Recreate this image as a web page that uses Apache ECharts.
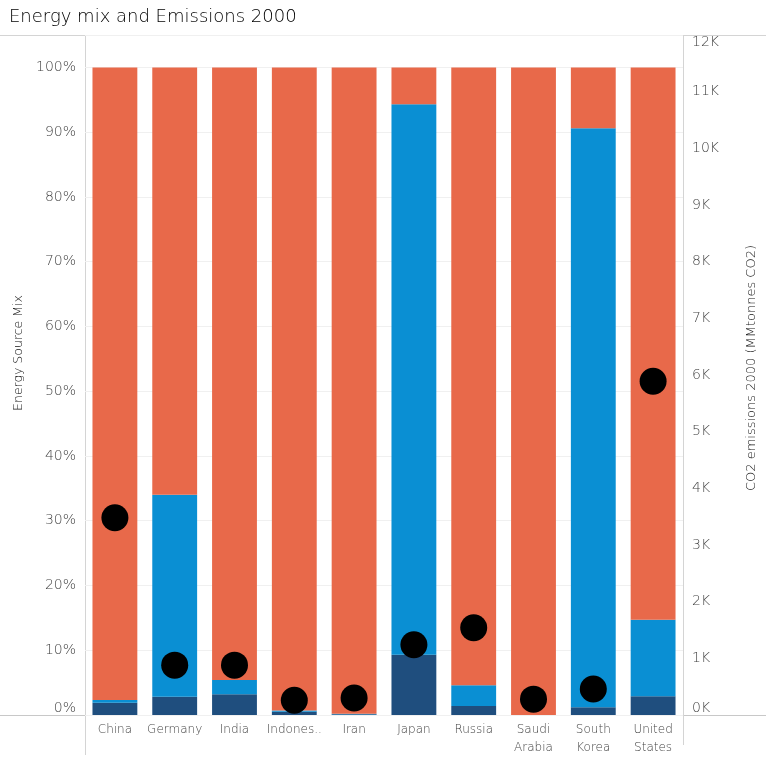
<!DOCTYPE html>
<html lang="en">
<head>
	<meta charset="UTF-8">
	<title>Energy mix and Emissions 2000</title>
	<script src="https://cdn.jsdelivr.net/npm/echarts@6/dist/echarts.min.js"></script>
	<style>
		html, body { margin: 0; padding: 0; background: #fff; }
	</style>
</head>
<body>
	<div id="app" style="width: 766px;height:759px"></div>

	<script>
		// countries on the x axis
		var countries = ["China", "Germany", "India", "Indonesia", "Iran", "Japan", "Russia", "Saudi\nArabia", "South\nKorea", "United\nStates"];
		// share of energy mix, percent (bottom -> top of stack)
		var nuclearShare = [1.9, 2.8, 3.2, 0.5, 0.1, 9.3, 1.4, 0, 1.2, 2.9];
		var renewShare = [0.4, 31.2, 2.2, 0.2, 0.1, 85.0, 3.2, 0, 89.4, 11.8];
		var fossilShare = [97.7, 66.0, 94.6, 99.3, 99.8, 5.7, 95.4, 100, 9.4, 85.3];
		// CO2 emissions 2000, MMtonnes CO2
		var co2 = [3480, 880, 880, 260, 300, 1240, 1540, 280, 460, 5890];

		var grey = '#444';
		var fontFam = '"DejaVu Sans", sans-serif';

		var myChart = echarts.init(document.getElementById('app'));
		var option = {
			animation: false,
			textStyle: { fontFamily: fontFam, fontWeight: 200 },
			title: {
				text: "Energy mix and Emissions 2000",
				left: 4, top: 3,
				textStyle: { fontSize: 18, fontWeight: 200, color: '#000', fontFamily: fontFam }
			},
			grid: { left: 85, right: 83, top: 35, bottom: 44 },
			graphic: [
				{ type: 'line', shape: { x1: 0, y1: 35.5, x2: 766, y2: 35.5 }, style: { stroke: '#d4d4d4', lineWidth: 1 } },
				{ type: 'line', shape: { x1: 0, y1: 715.5, x2: 766, y2: 715.5 }, style: { stroke: '#c8c8c8', lineWidth: 1 } },
				{ type: 'line', shape: { x1: 85.5, y1: 35, x2: 85.5, y2: 755 }, style: { stroke: '#d4d4d4', lineWidth: 1 } },
				{ type: 'line', shape: { x1: 683.5, y1: 35, x2: 683.5, y2: 745 }, style: { stroke: '#d4d4d4', lineWidth: 1 } }
			],
			xAxis: {
				type: 'category',
				data: countries,
				axisLine: { show: false },
				axisTick: { show: false },
				axisLabel: {
					interval: 0, color: grey, fontSize: 12, lineHeight: 18, margin: 6,
					fontFamily: fontFam, fontWeight: 200,
					formatter: function (v) { return v === 'Indonesia' ? 'Indones..' : v; }
				}
			},
			yAxis: [
				{
					type: 'value',
					min: 0, max: 105, interval: 10,
					name: 'Energy Source Mix',
					nameLocation: 'middle', nameRotate: 90, nameGap: 58,
					nameTextStyle: { color: '#111', fontSize: 12.5, fontWeight: 200, fontFamily: fontFam, padding: [0, 0, 0, 44] },
					axisLine: { show: false },
					axisTick: { show: false },
					splitLine: { lineStyle: { color: '#f0f0f0' } },
					axisLabel: {
						color: grey, fontSize: 14, margin: 9,
						fontFamily: fontFam, fontWeight: 200,
						verticalAlignMinLabel: 'bottom',
						formatter: function (v) { return v > 100 ? '' : v + '%'; }
					}
				},
				{
					type: 'value',
					min: 0, max: 12000, interval: 1000,
					name: 'CO2 emissions 2000 (MMtonnes CO2)',
					nameLocation: 'middle', nameRotate: 90, nameGap: 62,
					nameTextStyle: { color: '#111', fontSize: 13, fontWeight: 200, fontFamily: fontFam, padding: [0, 0, 0, 14] },
					axisLine: { show: false },
					axisTick: { show: false },
					splitLine: { show: false },
					axisLabel: {
						color: grey, fontSize: 14, margin: 9,
						fontFamily: fontFam, fontWeight: 200,
						verticalAlignMinLabel: 'bottom',
						verticalAlignMaxLabel: 'top',
						formatter: function (v) { return (v / 1000) + 'K'; }
					}
				}
			],
			series: [
				{
					name: 'Nuclear', type: 'bar', stack: 'mix', barWidth: '75%',
					itemStyle: { color: '#1f4e7e' },
					data: nuclearShare
				},
				{
					name: 'Renewables', type: 'bar', stack: 'mix',
					itemStyle: { color: '#0a8fd3' },
					data: renewShare
				},
				{
					name: 'Fossil fuels', type: 'bar', stack: 'mix',
					itemStyle: { color: '#e8694a' },
					data: fossilShare
				},
				{
					name: 'CO2 emissions', type: 'scatter', yAxisIndex: 1,
					symbolSize: 27, z: 5,
					itemStyle: { color: '#000', opacity: 1 },
					data: co2
				}
			]
		};
		myChart.setOption(option);
	</script>
</body>
</html>
